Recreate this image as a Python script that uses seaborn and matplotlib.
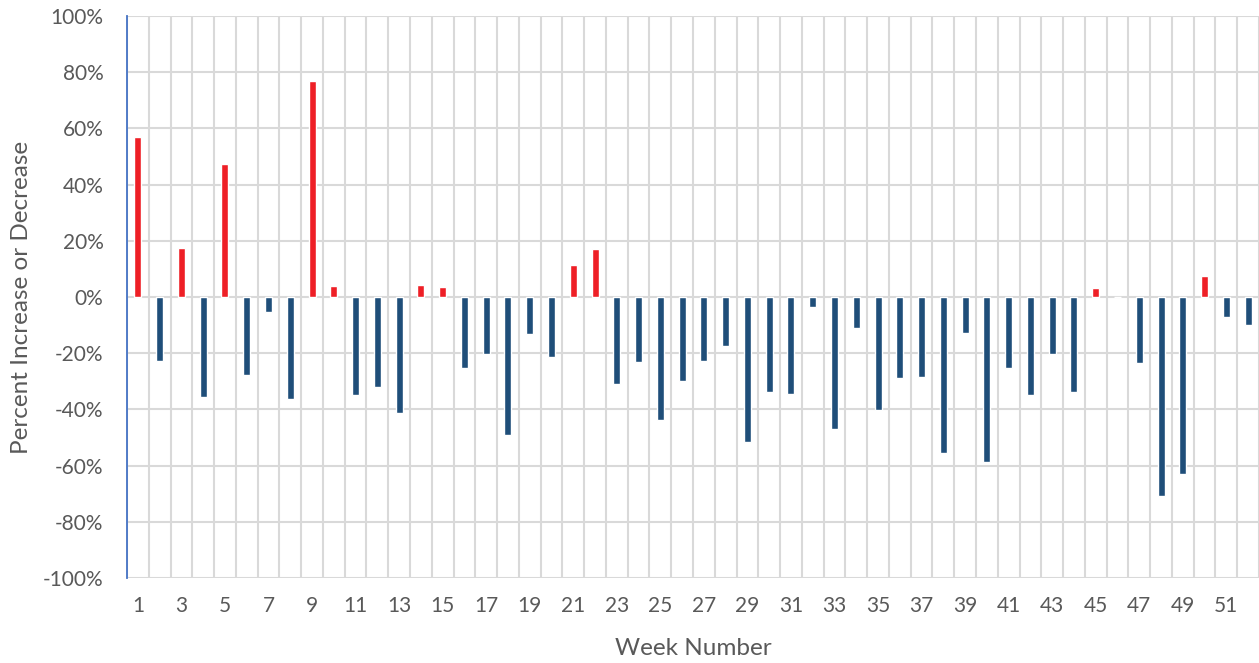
import matplotlib
matplotlib.use("Agg")
import matplotlib.pyplot as plt
import seaborn as sns
import pandas as pd
import numpy as np
from matplotlib.ticker import FixedLocator, PercentFormatter

weeks = list(range(1, 53))
pct_change = [57.0, -22.8, 17.5, -35.6, 47.3, -27.8, -5.3, -36.3, 76.9, 4.0,
              -34.9, -32.0, -41.3, 4.1, 3.6, -25.2, -20.2, -49.0, -13.1, -21.2,
              11.4, 17.1, -30.8, -23.0, -43.7, -29.8, -22.7, -17.3, -51.5, -33.7,
              -34.4, -3.4, -46.9, -10.9, -40.1, -28.7, -28.4, -55.4, -12.7, -58.6,
              -25.2, -34.8, -20.2, -33.7, 3.2, 0.0, -23.4, -70.7, -62.9, 7.5,
              -7.0, -9.9]
y_ticks = [-100, -80, -60, -40, -20, 0, 20, 40, 60, 80, 100]
x_tick_weeks = list(range(1, 52, 2))

RED = "#EE1F26"
BLUE = "#1F4E79"

df = pd.DataFrame({"week": [str(w) for w in weeks], "pct": pct_change})
colors = [RED if v > 0 else BLUE for v in pct_change]

sns.set_theme(style="white")
plt.rcParams["font.family"] = ["Lato", "DejaVu Sans"]
plt.rcParams["axes.unicode_minus"] = False

fig = plt.figure(figsize=(12.59, 6.63), dpi=100)
ax = fig.add_axes([127 / 1259, 1 - 578 / 663, 1 - 127 / 1259, (578 - 16) / 663])

sns.barplot(data=df, x="week", y="pct", hue="week", palette=colors,
            order=df["week"], hue_order=df["week"], legend=False,
            width=0.32, dodge=False, saturation=1, ax=ax)

ax.set_xlim(-0.5, len(weeks) - 0.5)
ax.set_ylim(-100, 100)
ax.set_yticks(y_ticks)
ax.yaxis.set_major_formatter(PercentFormatter(decimals=0))
ax.set_xticks([w - 1 for w in x_tick_weeks])
ax.set_xticklabels([str(w) for w in x_tick_weeks])
ax.xaxis.set_minor_locator(FixedLocator(np.arange(-0.5, len(weeks), 1.0)))

grid_c = "#D9D9D9"
ax.grid(axis="y", which="major", color=grid_c, linewidth=1.5)
ax.grid(axis="x", which="minor", color=grid_c, linewidth=1.5)
ax.grid(axis="x", which="major", visible=False)
ax.set_axisbelow(True)

for s in ["top", "right", "bottom"]:
    ax.spines[s].set_visible(False)
ax.spines["left"].set_color("#4472C4")
ax.spines["left"].set_linewidth(1.3)
ax.spines["left"].set_zorder(5)

ax.tick_params(axis="both", which="both", length=0, labelsize=15, colors="#595959")
ax.tick_params(axis="y", pad=17)
ax.tick_params(axis="x", pad=13)

ax.set_xlabel("Week Number", fontsize=17.5, color="#595959", labelpad=16)
ax.set_ylabel("Percent Increase or Decrease", fontsize=17.5, color="#595959", labelpad=8)

fig.savefig("out.png", dpi=100)
